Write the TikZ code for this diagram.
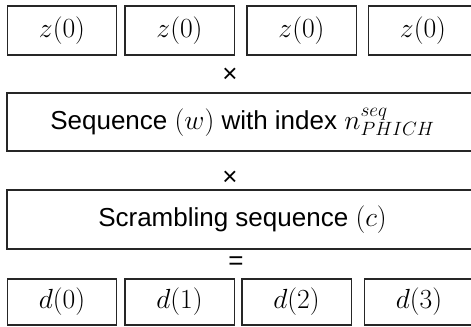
\documentclass[tikz,border=0pt]{standalone}
\usepackage{fontspec}
\setmainfont{Liberation Sans}
\begin{document}
\begin{tikzpicture}[x=0.75pt,y=-0.75pt,
  box/.style={draw=black!85, line width=1pt, inner sep=0pt, outer sep=0pt},
  small/.style={box, minimum width=82pt, minimum height=36.75pt},
  wide/.style={box, minimum width=353.25pt},
  sym/.style={inner sep=0pt},
  font=\fontsize{19.5}{23}\selectfont]
\useasboundingbox (0,0) rectangle (471,327);
% top row
\node[small] (z1) at (62,30.5) {$z(0)$};
\node[small] (z2) at (179.5,30.5) {$z(0)$};
\node[small] (z3) at (301.5,30.5) {$z(0)$};
\node[small] (z4) at (423,30.5) {$z(0)$};
\node[sym] (m1) at (230,75) {×};
% sequence
\node[wide, minimum height=43.5pt] (seq) at (242.5,122) {Sequence $(w)$ with index $n^{seq}_{PHICH}$};
\node[sym] (m2) at (230,178) {×};
% scrambling
\node[wide, minimum height=44.25pt] (scr) at (242.5,219.5) {Scrambling sequence $(c)$};
\node[sym] (eq) at (236,263) {=};
% bottom row
\node[small, minimum height=34.5pt] (d0) at (62,302) {$d(0)$};
\node[small, minimum height=34.5pt] (d1) at (179.5,302) {$d(1)$};
\node[small, minimum height=34.5pt] (d2) at (296.5,302) {$d(2)$};
\node[small, minimum height=34.5pt] (d3) at (419,302) {$d(3)$};
\end{tikzpicture}
\end{document}
